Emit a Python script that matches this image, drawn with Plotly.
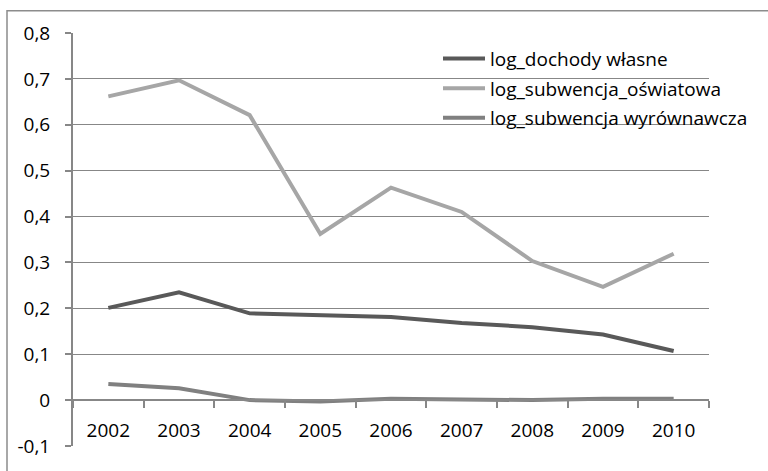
import plotly.graph_objects as go

# Years on the category axis
years = ["2002", "2003", "2004", "2005", "2006", "2007", "2008", "2009", "2010"]

# Series values (log scale indicators)
log_dochody_wlasne = [0.201, 0.235, 0.189, 0.184, 0.181, 0.168, 0.159, 0.143, 0.107]
log_subwencja_oswiatowa = [0.662, 0.697, 0.621, 0.362, 0.463, 0.410, 0.303, 0.247, 0.319]
log_subwencja_wyrownawcza = [0.035, 0.026, 0.000, -0.003, 0.003, 0.001, 0.000, 0.003, 0.003]

# Y-axis ticks
y_tickvals = [-0.1, 0, 0.1, 0.2, 0.3, 0.4, 0.5, 0.6, 0.7, 0.8]
y_ticktext = ["-0,1", "0", "0,1", "0,2", "0,3", "0,4", "0,5", "0,6", "0,7", "0,8"]

FONT = "Open Sans"
GRID = "#878787"

series = [
    ("log_dochody własne", log_dochody_wlasne, "#595959"),
    ("log_subwencja_oświatowa", log_subwencja_oswiatowa, "#a6a6a6"),
    ("log_subwencja wyrównawcza", log_subwencja_wyrownawcza, "#808080"),
]

fig = go.Figure()
for i, (name, vals, color) in enumerate(series):
    fig.add_trace(go.Scatter(
        x=years, y=vals, name=name, mode="lines",
        line=dict(color=color, width=4),
        legendgroup=f"g{i}",
    ))

W, H = 768, 471
ml, mr, mt, mb = 73, 59, 33, 21
pw, ph = W - ml - mr, H - mt - mb

fig.update_layout(
    width=W, height=H,
    margin=dict(l=ml, r=mr, t=mt, b=mb, pad=0),
    paper_bgcolor="white", plot_bgcolor="white",
    font=dict(family=FONT, size=19, color="#000000"),
    showlegend=True,
    legend=dict(
        x=(438 - ml) / pw, y=0.984, xanchor="left", yanchor="top",
        bgcolor="rgba(0,0,0,0)", borderwidth=0,
        font=dict(family=FONT, size=19, color="#000000"),
        itemwidth=42, tracegroupgap=2,
    ),
    xaxis=dict(
        type="category", range=[-0.5, 8.5],
        anchor="free", position=0.1 / 0.9,
        showline=True, linecolor=GRID, linewidth=1.5,
        ticks="outside", ticklen=7, tickcolor=GRID, tickwidth=1.5,
        tickson="boundaries", showgrid=False,
        tickfont=dict(family=FONT, size=19, color="#000000"),
        ticklabelstandoff=13,
    ),
    yaxis=dict(
        range=[-0.1, 0.8], tickvals=y_tickvals, ticktext=y_ticktext,
        showline=True, linecolor=GRID, linewidth=2,
        ticks="outside", ticklen=6, tickcolor=GRID, tickwidth=1.5,
        showgrid=True, gridcolor=GRID, gridwidth=1.2,
        zeroline=False,
        tickfont=dict(family=FONT, size=19, color="#000000"),
        ticklabelstandoff=11,
    ),
)

# Outer chart-area frame, running off the right and bottom edges
fig.add_shape(
    type="rect", xref="paper", yref="paper",
    x0=(7 - ml) / pw, x1=(W + 20 - ml) / pw,
    y0=-(mb + 20) / ph, y1=(H - mb - 10.5) / ph,
    line=dict(color="#8c8c8c", width=1.5), fillcolor="rgba(0,0,0,0)",
    layer="below",
)

fig.write_html("out.html")
